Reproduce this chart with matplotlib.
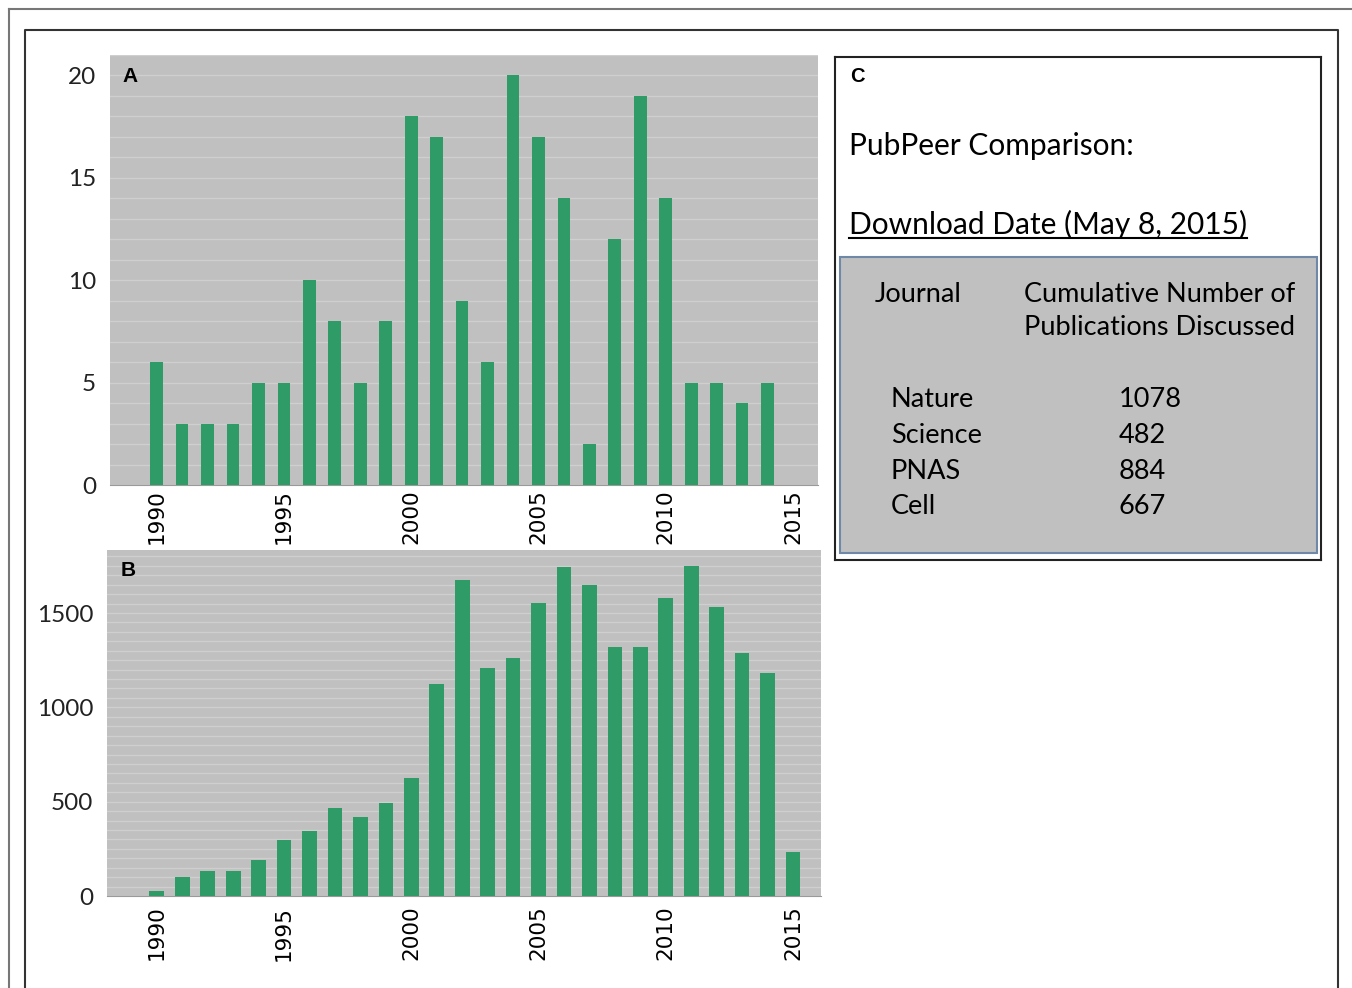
import matplotlib
matplotlib.use('Agg')
import matplotlib.pyplot as plt
from matplotlib.patches import Rectangle
from matplotlib.lines import Line2D
from matplotlib.ticker import MultipleLocator

# Panel A: retracted / flagged publications per year
years_a = list(range(1990, 2015))
counts_a = [6, 3, 3, 3, 5, 5, 10, 8, 5, 8, 18, 17, 9, 6, 20, 17, 14, 2, 12, 19, 14, 5, 5, 4, 5]

# Panel B: publications per year
years_b = list(range(1990, 2016))
counts_b = [26, 100, 132, 133, 191, 297, 344, 466, 419, 493, 625, 1123, 1675, 1208, 1261,
            1553, 1743, 1648, 1320, 1320, 1579, 1749, 1532, 1288, 1182, 233]

year_ticks = [1990, 1995, 2000, 2005, 2010, 2015]
ticks_a = [0, 5, 10, 15, 20]
ticks_b = [0, 500, 1000, 1500]

# Panel C table
journals = ['Nature', 'Science', 'PNAS', 'Cell']
discussed = [1078, 482, 884, 667]

W, H = 1352, 988
GREEN = '#2f9c68'
SILVER = '#c0c0c0'
GRID = '#cfcfcf'

fig = plt.figure(figsize=(W / 100, H / 100), dpi=100)


def box(x0, y0, x1, y1):
    # pixel box (top-left origin) -> figure fraction
    return [x0 / W, 1 - y1 / H, (x1 - x0) / W, (y1 - y0) / H]


def fx(x):
    return x / W


def fy(y):
    return 1 - y / H


# frame lines
fig.add_artist(Line2D([fx(9), fx(9)], [fy(9), fy(990)], color='#777777', lw=1.5))
fig.add_artist(Line2D([fx(9), fx(1352)], [fy(9), fy(9)], color='#777777', lw=1.5))
fig.add_artist(Line2D([fx(25), fx(25), fx(1338), fx(1338)],
                      [fy(990), fy(30), fy(30), fy(990)], color='#333333', lw=1.5))


def bar_panel(ax, years, counts, width, ylim, xlim, yticks, minor, label, xpad):
    ax.set_facecolor(SILVER)
    ax.bar(years, counts, width=width, color=GREEN, zorder=3)
    ax.set_xlim(*xlim)
    ax.set_ylim(*ylim)
    ax.yaxis.set_minor_locator(MultipleLocator(minor))
    ax.set_yticks(yticks)
    ax.grid(True, axis='y', which='both', color=GRID, lw=1, zorder=1)
    ax.set_axisbelow(True)
    ax.set_xticks(year_ticks)
    ax.set_xticklabels([str(y) for y in year_ticks], rotation=90,
                       fontsize=15.5, family='DejaVu Sans')
    for t in ax.get_yticklabels():
        t.set_family('Lato')
        t.set_fontsize(17.5)
        t.set_color('#222222')
    ax.tick_params(axis='x', length=0, pad=xpad)
    ax.tick_params(axis='y', which='both', length=0, pad=10)
    for s in ['top', 'right', 'left']:
        ax.spines[s].set_visible(False)
    ax.spines['bottom'].set_color('#9a9a9a')
    ax.text(0.02, 0.95, label, transform=ax.transAxes, fontsize=15,
            fontweight='bold', family='Liberation Sans', va='center', ha='left')


axA = fig.add_axes(box(110, 55, 818, 485))
bar_panel(axA, years_a, counts_a, 0.5, (0, 21), (1988.17, 2015.98), ticks_a, 1, 'A', 3)
axA.texts[0].set_position((12 / 708, 1 - 21.5 / 430))

axB = fig.add_axes(box(107, 550, 821, 896))
bar_panel(axB, years_b, counts_b, 0.58, (0, 1834), (1988.04, 2016.1), ticks_b, 50, 'B', 7)
axB.texts[0].set_position((14 / 714, 1 - 20.5 / 346))

# Panel C
axC = fig.add_axes(box(835, 57, 1321, 560))
axC.set_xlim(835, 1321)
axC.set_ylim(560, 57)
axC.set_xticks([])
axC.set_yticks([])
for s in axC.spines.values():
    s.set_color('#222222')
    s.set_linewidth(1.5)

axC.text(850, 76, 'C', fontsize=14.5, fontweight='bold', family='Liberation Sans',
         va='center', ha='left')
axC.text(849, 146, 'PubPeer Comparison:', fontsize=21.5, family='Lato',
         va='center', ha='left')
dl = axC.text(849, 224, 'Download Date (May 8, 2015)', fontsize=21.5, family='Lato',
              va='center', ha='left')

axC.add_patch(Rectangle((840, 257), 477, 296, facecolor=SILVER,
                        edgecolor='#7088a8', lw=1.5))
axC.text(875, 294, 'Journal', fontsize=19.5, family='Lato', va='center', ha='left')
axC.text(1160, 311, 'Cumulative Number of\nPublications Discussed', fontsize=19.5,
         family='Lato', va='center', ha='center', multialignment='center',
         linespacing=1.4)

row_y = [399, 435, 471, 506]
for j, n, y in zip(journals, discussed, row_y):
    axC.text(891, y, j, fontsize=19.5, family='Lato', va='center', ha='left')
    axC.text(1119, y, str(n), fontsize=19.5, family='Lato', va='center', ha='left')

# underline for the download date line
fig.canvas.draw()
bb = dl.get_window_extent()
uy = bb.y0 + 1
fig.add_artist(Line2D([bb.x0 / W, bb.x1 / W], [uy / H, uy / H], color='black', lw=1.5))

fig.savefig('out.png', dpi=100)
